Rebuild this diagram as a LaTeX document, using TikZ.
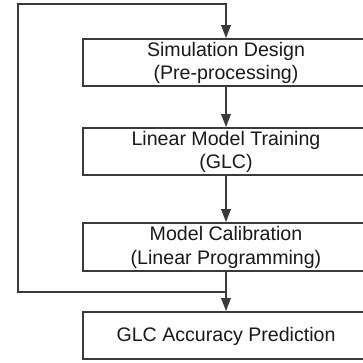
\documentclass[tikz,border=0pt]{standalone}
\usepackage{fontspec}
\setmainfont{Liberation Sans}
\usetikzlibrary{arrows.meta}
\definecolor{ln}{HTML}{3A3A3A}
\definecolor{tx}{HTML}{1A1A1A}
\tikzset{
  box/.style={draw=ln, line width=1.8pt, rectangle, minimum width=286pt, inner sep=0pt},
  lbl/.style={align=center, text=tx, inner sep=0pt, font=\fontsize{19.6}{23.5}\selectfont},
  conn/.style={draw=ln, line width=1.8pt},
  arr/.style={conn, -{Triangle[length=13pt,width=9.5pt]}}
}
\begin{document}
\begin{tikzpicture}[x=1pt,y=-1pt]
\useasboundingbox (0,0) rectangle (363,363);
\clip (0,0) rectangle (363,363);
\fill[white] (0,0) rectangle (363,363);
\node[box, minimum height=47pt] (b1) at (226,62.5) {};
\node[box, minimum height=47pt] (b2) at (226,151.5) {};
\node[box, minimum height=48pt] (b3) at (226,247) {};
\node[box, minimum height=47pt] (b4) at (226,335.5) {};
\node[lbl] (t1) at ([yshift=-0.5pt]b1.center) {Simulation Design\\(Pre-processing)};
\node[lbl] (t2) at ([yshift=-0.5pt]b2.center) {Linear Model Training\\(GLC)};
\node[lbl] (t3) at ([yshift=-0.5pt]b3.center) {Model Calibration\\(Linear Programming)};
\node[lbl] (t4) at ([yshift=-0.5pt]b4.center) {GLC Accuracy Prediction};
\coordinate (j) at (226,292);
\coordinate (c1) at (18,292);
\coordinate (c2) at (18,4);
\coordinate (c3) at (226,4);
\draw[arr] (b1.south) -- (b2.north);
\draw[arr] (b2.south) -- (b3.north);
\draw[conn] (b3.south) -- (j);
\draw[arr] (j) -- (b4.north);
\draw[arr, line join=miter] (j) -- (c1) -- (c2) -- (c3) -- (b1.north);
\end{tikzpicture}
\end{document}
